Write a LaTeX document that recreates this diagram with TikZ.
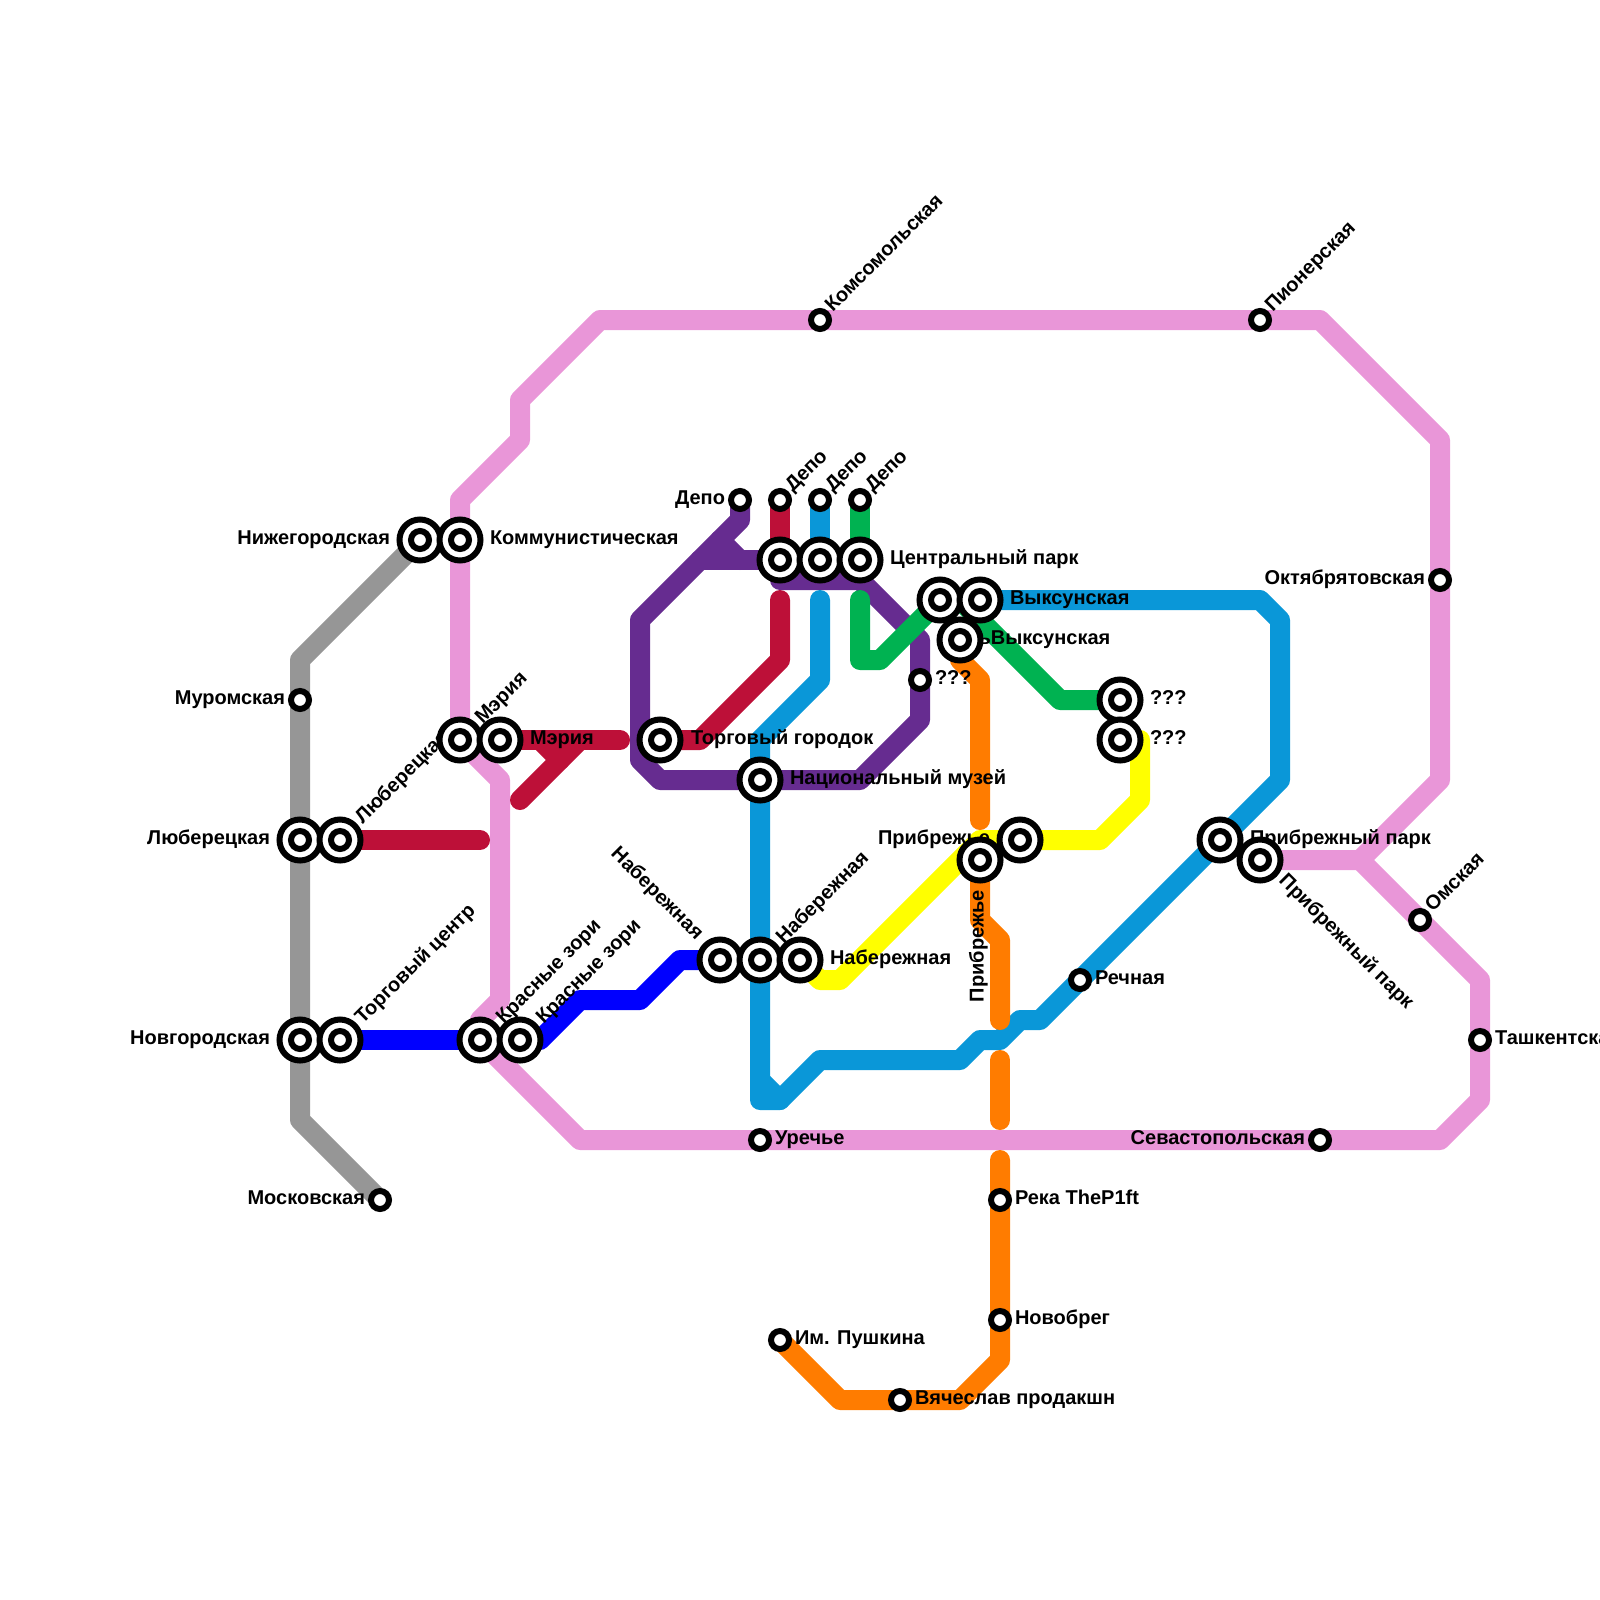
\documentclass[tikz,border=0pt]{standalone}
\usepackage{fontspec}
\setmainfont{Liberation Sans}
\definecolor{cgrey}{HTML}{969696}
\definecolor{cpink}{HTML}{E996D8}
\definecolor{cred}{HTML}{BD1038}
\definecolor{cblue}{HTML}{0A97D8}
\definecolor{cpurple}{HTML}{662C90}
\definecolor{cgreen}{HTML}{00B251}
\definecolor{cyel}{HTML}{FFFF00}
\definecolor{corange}{HTML}{FF7C00}
\definecolor{cdark}{HTML}{0000FF}
\tikzset{
 ln/.style={line width=20pt,line cap=round,line join=round},
 outerbig/.style={circle,draw=black,fill=white,line width=6pt,inner sep=0pt,outer sep=0pt,minimum size=41pt},
 ringsmall/.style={circle,draw=black,fill=white,line width=6pt,inner sep=0pt,outer sep=0pt,minimum size=18pt},
 lbl/.style={inner sep=0pt,outer sep=0pt,font=\bfseries\fontsize{20}{22}\selectfont},
 lw/.style={lbl,anchor=mid west,yshift=-2pt},
 le/.style={lbl,anchor=mid east,yshift=-2pt},
 ru/.style={lbl,anchor=mid west,rotate=45},
 rd/.style={lbl,anchor=mid west,rotate=-45},
}
\begin{document}
\begin{tikzpicture}[x=1pt,y=-1pt]
\useasboundingbox (0,0) rectangle (1600,1600);
% big stations
\foreach \n/\x/\y in {nizh/420/540,komm/460/540,mer/460/740,merb/500/740,lyu/300/840,lyub/340/840,nov/300/1040,torgc/340/1040,kra/480/1040,krb/520/1040,torgg/660/740,nat/760/780,naba/720/960,nabb/760/960,nabc/800/960,cpa/780/560,cpb/820/560,cpc/860/560,vya/940/600,vyb/980/600,vyc/960/640,qa/1120/700,qb/1120/740,pra/1020/840,prb/980/860,ppa/1220/840,ppb/1260/860}
  {\coordinate (\n) at (\x,\y);}
% small stations
\foreach \n/\x/\y in {depa/740/500,depb/780/500,depc/820/500,depd/860/500,qs/920/680,mur/300/700,mos/380/1200,kom/820/320,pio/1260/320,okt/1440/580,oms/1420/920,tas/1480/1040,sev/1320/1140,ure/760/1140,rek/1000/1200,nvb/1000/1320,vya2/900/1400,pus/780/1340,rec/1080/980}
  {\coordinate (\n) at (\x,\y);}
% lines
\draw[ln,cgrey] (nizh) -- (300,660) -- (mur) -- (lyu) -- (nov) -- (300,1120) -- (mos);
\draw[ln,cpink] (mer) -- (komm) -- (460,500) -- (520,440) -- (520,400) -- (600,320) -- (kom) -- (pio) -- (1320,320) -- (1440,440) -- (okt) -- (1440,780) -- (1360,860) -- (ppb);
\draw[ln,cpink] (mer) -- (500,780) -- (500,1000) -- (480,1020) -- (kra) -- (580,1140) -- (ure) -- (sev) -- (1440,1140) -- (1480,1100) -- (tas) -- (1480,980) -- (oms) -- (1360,860);
\draw[ln,cred] (lyub) -- (480,840);
\draw[ln,cred] (merb) -- (620,740);
\draw[ln,cred] (520,800) -- (580,740);
\draw[ln,cred] (540,740) -- (560,760);
\draw[ln,cred] (torgg) -- (700,740) -- (780,660) -- (780,600);
\draw[ln,cred] (depb) -- (cpa);
\draw[ln,cdark] (torgc) -- (kra);
\draw[ln,cdark] (krb) -- (540,1040) -- (580,1000) -- (640,1000) -- (680,960) -- (naba);
\draw[ln,cpurple] (depa) -- (740,520) -- (640,620) -- (640,760) -- (660,780) -- (nat) -- (860,780) -- (920,720) -- (qs) -- (920,640) -- (860,580) -- (780,580) -- (cpa);
\draw[ln,cpurple] (700,560) -- (cpa);
\draw[ln,cpurple] (720,540) -- (740,560);
\draw[ln,cblue] (depc) -- (cpb);
\draw[ln,cblue] (820,600) -- (820,680) -- (760,740) -- (nat) -- (nabb) -- (760,1100) -- (780,1100) -- (820,1060) -- (960,1060) -- (980,1040) -- (1000,1040) -- (1020,1020) -- (1040,1020) -- (rec) -- (ppa) -- (1280,780) -- (1280,620) -- (1260,600) -- (vyb);
\draw[ln,cblue] (760,1080) -- (780,1100);
\draw[ln,cgreen] (depd) -- (cpc);
\draw[ln,cgreen] (860,600) -- (860,660) -- (880,660) -- (vya);
\draw[ln,cgreen] (960,600) -- (1060,700) -- (qa);
\draw[ln,cyel] (qb) -- (1140,740) -- (1140,800) -- (1100,840) -- (pra) -- (980,840) -- (840,980) -- (820,980) -- (nabc);
\draw[ln,corange] (vyc) -- (960,660) -- (980,680) -- (980,820);
\draw[ln,corange] (prb) -- (980,920) -- (1000,940) -- (1000,1020);
\draw[ln,corange] (1000,1060) -- (1000,1120);
\draw[ln,corange] (1000,1160) -- (rek) -- (nvb) -- (1000,1360) -- (960,1400) -- (vya2) -- (840,1400) -- (pus);
% labels
\node[le] (l1) at (390,540) {Нижегородская};
\node[lw] (l2) at (490,540) {Коммунистическая};
\node[le] (l3) at (285,700) {Муромская};
\node[le] (l4) at (270,840) {Люберецкая};
\node[le] (l5) at (270,1040) {Новгородская};
\node[le] (l6) at (365,1200) {Московская};
\node[ru] (l7) at (361,823) {Люберецкая};
\node[ru] (l8) at (481,723) {Мэрия};
\node[lw] (l9) at (530,740) {Мэрия};
\node[ru] (l10) at (361,1023) {Торговый центр};
\node[ru] (l11) at (502,1023) {Красные зори};
\node[ru] (l12) at (542,1023) {Красные зори};
\node[rd] (l13) at (612,853) {Набережная};
\node[ru] (l14) at (782,943) {Набережная};
\node[lw] (l15) at (830,960) {Набережная};
\node[lw] (l16) at (691,740) {Торговый городок};
\node[lw] (l17) at (790,780) {Национальный музей};
\node[le] (l18) at (725,500) {Депо};
\node[ru] (l19) at (791,491) {Депо};
\node[ru] (l20) at (831,491) {Депо};
\node[ru] (l21) at (871,491) {Депо};
\node[lw] (l22) at (890,560) {Центральный парк};
\node[ru] (l23) at (831,311) {Комсомольская};
\node[ru] (l24) at (1271,311) {Пионерская};
\node[lw] (l25) at (1010,600) {Выксунская};
\node[lw] (l26) at (978.5,640) {ьВыксунская};
\node[lw] (l27) at (935,680) {???};
\node[lw] (l28) at (1150,700) {???};
\node[lw] (l29) at (1150,740) {???};
\node[le] (l30) at (990,840) {Прибрежье};
\node[lbl,anchor=mid west,rotate=90] (l31) at (981,1002) {Прибрежье};
\node[lw] (l32) at (1250,840) {Прибрежный парк};
\node[rd] (l33) at (1280,880) {Прибрежный парк};
\node[lw] (l34) at (1095,980) {Речная};
\node[ru] (l35) at (1431,911) {Омская};
\node[lw] (l36) at (1495,1040) {Ташкентская};
\node[le] (l37) at (1425,580) {Октябрятовская};
\node[le] (l38) at (1305,1140) {Севастопольская};
\node[lw] (l39) at (775,1140) {Уречье};
\node[lw] (l40) at (1015,1200) {Река TheP1ft};
\node[lw] (l41) at (1015,1320) {Новобрег};
\node[lw] (l42) at (795,1340) {Им. Пушкина};
\node[lw] (l43) at (915,1400) {Вячеслав продакшн};
% station markers
\foreach \n in {nizh,komm,mer,merb,lyu,lyub,nov,torgc,kra,krb,torgg,nat,naba,nabb,nabc,cpa,cpb,cpc,vya,vyb,vyc,qa,qb,pra,prb,ppa,ppb}
  {\node[outerbig] (o\n) at (\n) {}; \node[ringsmall] (i\n) at (\n) {};}
\foreach \n in {depa,depb,depc,depd,qs,mur,mos,kom,pio,okt,oms,tas,sev,ure,rek,nvb,vya2,pus,rec}
  {\node[ringsmall] (i\n) at (\n) {};}
\end{tikzpicture}
\end{document}
